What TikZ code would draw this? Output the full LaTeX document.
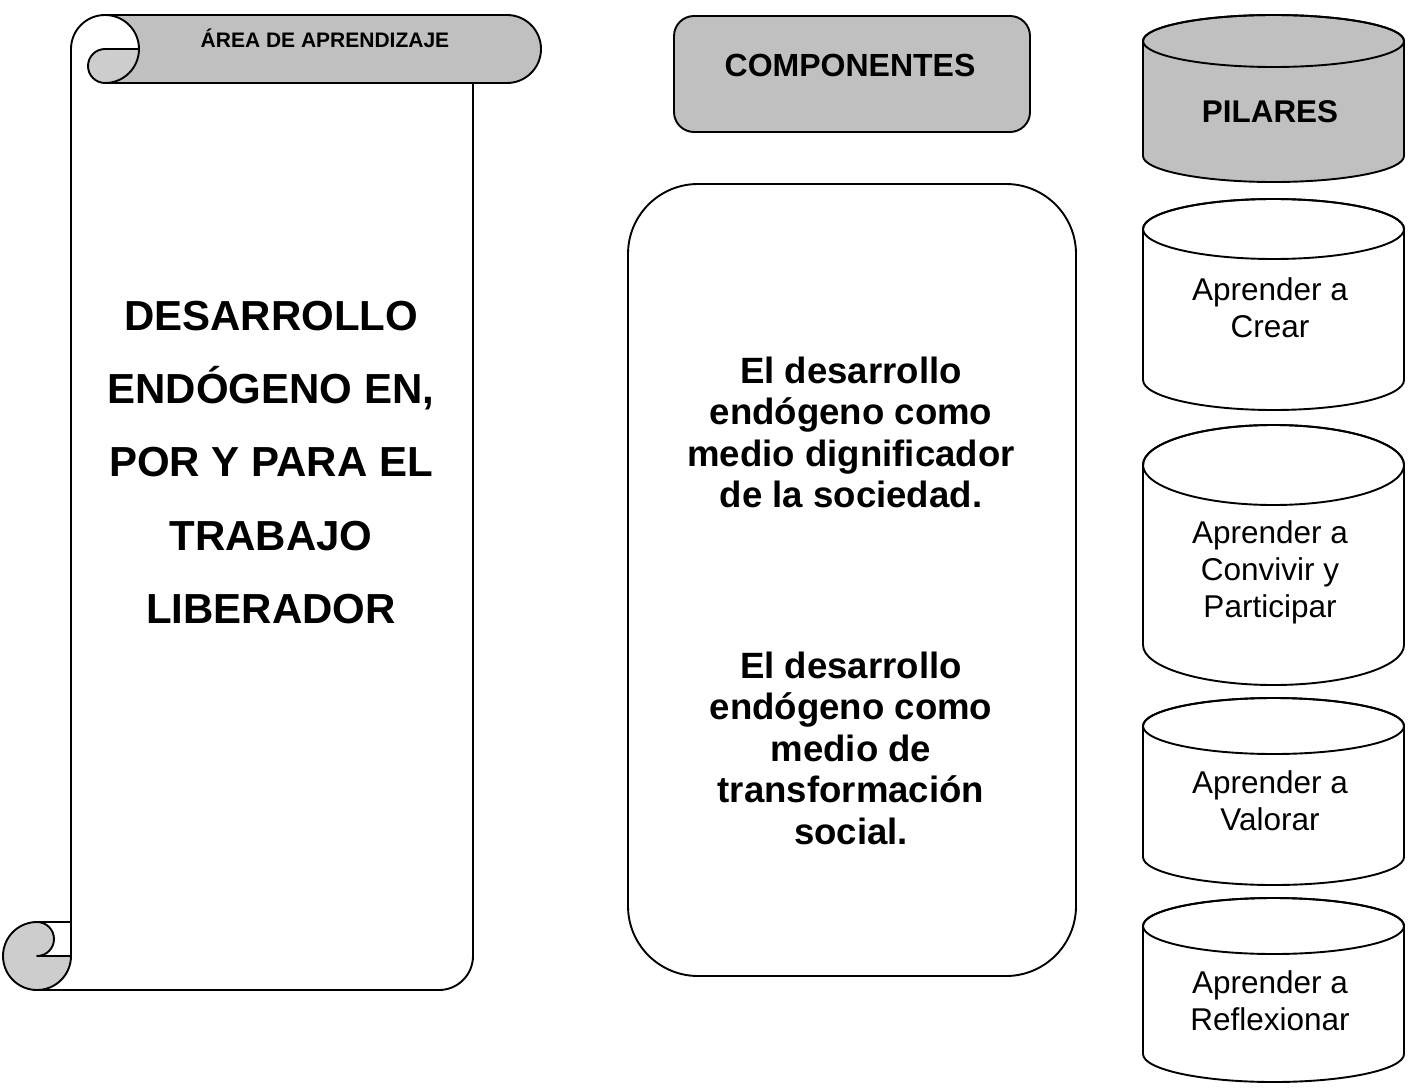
\documentclass[tikz,border=0pt]{standalone}
\usepackage{fontspec}
\setmainfont{Liberation Sans}
\definecolor{bandgray}{HTML}{C0C0C0}
\definecolor{curlgray}{HTML}{CDCDCD}
\newcommand{\pilarcyl}[5]{% top, bottom, ry, fill, name
  \path[cylline,fill=#4] (1143,-#1-#3) -- (1143,-#2+#3)
    arc[start angle=180,end angle=360,x radius=130.5,y radius=#3]
    -- (1404,-#1-#3)
    arc[start angle=0,end angle=180,x radius=130.5,y radius=#3] -- cycle;
  \draw[cylline] (1273.5,-#1-#3) ellipse [x radius=130.5,y radius=#3];
  \coordinate (#5) at (1273.5,-#1/2-#2/2);
}
\begin{document}
\begin{tikzpicture}[x=1pt,y=1pt,
  line join=round,
  shapeline/.style={draw=black,line width=1.9pt},
  cylline/.style={draw=black,line width=1.9pt},
  txt/.style={inner sep=0pt,anchor=base},
  areafont/.style={txt,font=\fontsize{21}{25}\selectfont\bfseries},
  bigfont/.style={txt,font=\fontsize{42}{50}\selectfont\bfseries},
  midfont/.style={txt,font=\fontsize{36.6}{42}\selectfont\bfseries},
  headfont/.style={txt,font=\fontsize{32}{38}\selectfont\bfseries},
  cylfont/.style={txt,font=\fontsize{31.5}{36}\selectfont}]
\useasboundingbox[fill=white] (0,0) rectangle (1412,-1089);

% ---------- scroll ----------
% banner fill
\fill[bandgray] (105,-15) -- (507,-15) arc[start angle=90,end angle=-90,radius=34]
  -- (105,-83) arc[start angle=-90,end angle=90,radius=34] -- cycle;
% top curl fill
\fill[curlgray] (105,-49) -- (139,-49) arc[start angle=0,end angle=-90,radius=34]
  arc[start angle=-90,end angle=-270,radius=17] -- cycle;
% bottom curl fill
\fill[curlgray] (37,-922) arc[start angle=90,end angle=360,radius=34]
  -- (37,-956) arc[start angle=-90,end angle=90,radius=17] -- cycle;
% outline
\draw[shapeline] (71,-922) -- (71,-49) arc[start angle=180,end angle=90,radius=34]
  -- (507,-15) arc[start angle=90,end angle=-90,radius=34]
  -- (473,-83) -- (473,-956) arc[start angle=0,end angle=-90,radius=34]
  -- (37,-990) arc[start angle=270,end angle=90,radius=34] -- cycle;
\draw[shapeline] (105,-15) arc[start angle=90,end angle=-90,radius=34]
  arc[start angle=-90,end angle=-270,radius=17] -- (139,-49);
\draw[shapeline] (473,-83) -- (105,-83);
\draw[shapeline] (37,-922) arc[start angle=90,end angle=-90,radius=17] -- (71,-956);
\draw[shapeline] (37,-990) arc[start angle=-90,end angle=0,radius=34] -- (71,-922);

\node[areafont] (area) at (325,-48) {ÁREA DE APRENDIZAJE};
\node[bigfont] (s1) at (271,-330) {DESARROLLO};
\node[bigfont] (s2) at (271,-403.3) {ENDÓGENO EN,};
\node[bigfont] (s3) at (271,-476.6) {POR Y PARA EL};
\node[bigfont] (s4) at (271,-550) {TRABAJO};
\node[bigfont] (s5) at (271,-623.3) {LIBERADOR};

% ---------- componentes ----------
\draw[shapeline,fill=bandgray,rounded corners=20pt] (674,-16) rectangle (1030,-132);
\node[headfont] (comp) at (850,-77) {COMPONENTES};

\draw[shapeline,rounded corners=70pt] (628,-184) rectangle (1076,-976);
\node[midfont] (a1) at (851,-383) {El desarrollo};
\node[midfont] (a2) at (851,-424.5) {endógeno como};
\node[midfont] (a3) at (851,-466) {medio dignificador};
\node[midfont] (a4) at (851,-507.5) {de la sociedad.};
\node[midfont] (b1) at (851,-678) {El desarrollo};
\node[midfont] (b2) at (851,-719.5) {endógeno como};
\node[midfont] (b3) at (851,-761) {medio de};
\node[midfont] (b4) at (851,-802.5) {transformación};
\node[midfont] (b5) at (851,-844) {social.};

% ---------- pilares ----------
\pilarcyl{15}{182}{26}{bandgray}{c1}
\pilarcyl{199}{410}{30}{white}{c2}
\pilarcyl{425}{685}{40}{white}{c3}
\pilarcyl{698}{885}{28}{white}{c4}
\pilarcyl{898}{1082}{28}{white}{c5}

\node[txt,font=\fontsize{31.4}{36}\selectfont\bfseries] (pil) at (1270,-122) {PILARES};
\node[cylfont] (p2a) at (1270,-300) {Aprender a};
\node[cylfont] (p2b) at (1270,-337) {Crear};
\node[cylfont] (p3a) at (1270,-543) {Aprender a};
\node[cylfont] (p3b) at (1270,-580) {Convivir y};
\node[cylfont] (p3c) at (1270,-617) {Participar};
\node[cylfont] (p4a) at (1270,-793) {Aprender a};
\node[cylfont] (p4b) at (1270,-830) {Valorar};
\node[cylfont] (p5a) at (1270,-993) {Aprender a};
\node[cylfont] (p5b) at (1270,-1030) {Reflexionar};
\end{tikzpicture}
\end{document}
